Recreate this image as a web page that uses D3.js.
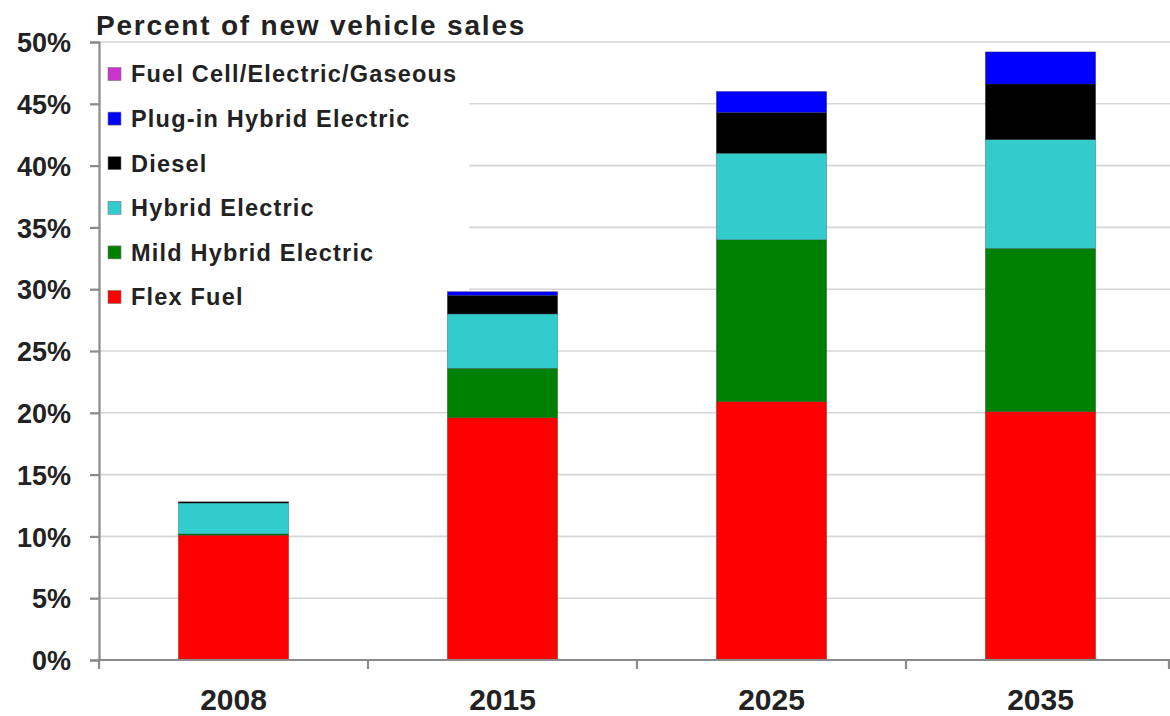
<!DOCTYPE html>
<html>
<head>
<meta charset="utf-8">
<script src="https://cdn.jsdelivr.net/npm/d3@7"></script>
<style>
  body { margin: 0; background: #fff; }
  text { font-family: "Liberation Sans", Arial, sans-serif; font-weight: bold; fill: #222; }
</style>
</head>
<body>
<div id="chart"></div>
<script>
// data (percent of new vehicle sales)
var years = ["2008", "2015", "2025", "2035"];
var series = ["Flex Fuel", "Mild Hybrid Electric", "Hybrid Electric", "Diesel", "Plug-in Hybrid Electric", "Fuel Cell/Electric/Gaseous"];
var flexFuel   = [10.1, 19.6, 20.9, 20.1];
var mildHybrid = [0.1, 4.0, 13.1, 13.2];
var hybrid     = [2.5, 4.4, 7.0, 8.8];
var diesel     = [0.1, 1.5, 3.3, 4.5];
var plugIn     = [0.0, 0.3, 1.7, 2.6];
var fuelCell   = [0.0, 0.0, 0.0, 0.0];
var yTicks = [0, 5, 10, 15, 20, 25, 30, 35, 40, 45, 50];
var colors = ["#ff0000", "#008000", "#33cccc", "#000000", "#0000ff", "#cc33cc"];

var seriesValues = [flexFuel, mildHybrid, hybrid, diesel, plugIn, fuelCell];
var table = years.map(function(y, i) {
  var row = { year: y };
  series.forEach(function(s, j) { row[s] = seriesValues[j][i]; });
  return row;
});

var W = 1170, H = 716;
var margin = {top: 42, right: 0, bottom: 56, left: 99};
var height = H - margin.top - margin.bottom;

var svg = d3.select("#chart").append("svg")
  .attr("width", W).attr("height", H);

var x = d3.scaleBand().domain(years).range([margin.left, margin.left + 4 * 269]).paddingInner(0.59).paddingOuter(0.295);
var xTick = d3.scaleBand().domain(years).range([margin.left, margin.left + 4 * 269]);
var y = d3.scaleLinear().domain([0, 50]).range([margin.top + height, margin.top]);

// gridlines
svg.append("g").selectAll("line")
  .data(yTicks.filter(function(d) { return d > 0; }))
  .enter().append("line")
  .attr("x1", margin.left).attr("x2", W)
  .attr("y1", function(d) { return y(d); }).attr("y2", function(d) { return y(d); })
  .attr("stroke", "#d6d6d6").attr("stroke-width", 1.6);

// legend background hides gridlines behind it
svg.append("rect").attr("x", margin.left + 2).attr("y", 50).attr("width", 368).attr("height", 262).attr("fill", "#fff");

// stacked bars
var stack = d3.stack().keys(series)(table);
svg.append("g").selectAll("g")
  .data(stack)
  .enter().append("g")
  .attr("fill", function(d, i) { return colors[i]; })
  .selectAll("rect")
  .data(function(d) { return d; })
  .enter().append("rect")
  .attr("x", function(d) { return x(d.data.year); })
  .attr("width", x.bandwidth())
  .attr("y", function(d) { return y(d[1]); })
  .attr("height", function(d) { return Math.max(0, y(d[0]) - y(d[1])); })
  .attr("stroke", "#333").attr("stroke-width", 0.6).attr("stroke-opacity", 0.5);

// y axis
var yAxis = svg.append("g")
  .attr("transform", "translate(" + margin.left + ",0)")
  .call(d3.axisLeft(y).tickValues(yTicks).tickSize(9).tickPadding(19).tickFormat(function(d) { return d + "%"; }));
yAxis.selectAll("text").style("font-size", "27px").attr("dy", "0.36em");

// x axis
var xAxis = svg.append("g")
  .attr("transform", "translate(0," + y(0) + ")")
  .call(d3.axisBottom(xTick).tickSize(0).tickPadding(29));
xAxis.selectAll("text").style("font-size", "30px");
xAxis.selectAll(".tick line").remove();
xAxis.selectAll("line.sep")
  .data(years)
  .enter().append("line").attr("class", "sep")
  .attr("x1", function(d) { return xTick(d); }).attr("x2", function(d) { return xTick(d); })
  .attr("y1", 0).attr("y2", 9);
xAxis.append("line").attr("class", "sep").attr("x1", xTick.range()[1] - 6).attr("x2", xTick.range()[1] - 6).attr("y1", 0).attr("y2", 9);

svg.selectAll(".domain, .tick line, line.sep").attr("stroke", "#8a8a8a").attr("stroke-width", 2.2);
xAxis.select(".domain").attr("d", "M" + margin.left + ",0H" + W);

// title
svg.append("text").attr("x", 96).attr("y", 35).style("font-size", "28px").style("letter-spacing", "1.8px")
  .text("Percent of new vehicle sales");

// legend, top item is last series
var legend = svg.append("g").selectAll("g")
  .data(series.slice().reverse())
  .enter().append("g")
  .attr("transform", function(d, i) { return "translate(108," + (74 + i * 44.6) + ")"; });
legend.append("rect").attr("x", 0).attr("y", -6.5).attr("width", 13).attr("height", 13)
  .attr("fill", function(d, i) { return colors[series.length - 1 - i]; })
  .attr("stroke", "#777").attr("stroke-width", 0.6);
legend.append("text").attr("x", 23).attr("dy", "0.36em").style("font-size", "23.5px").style("letter-spacing", "1.2px")
  .text(function(d) { return d; });
</script>
</body>
</html>
